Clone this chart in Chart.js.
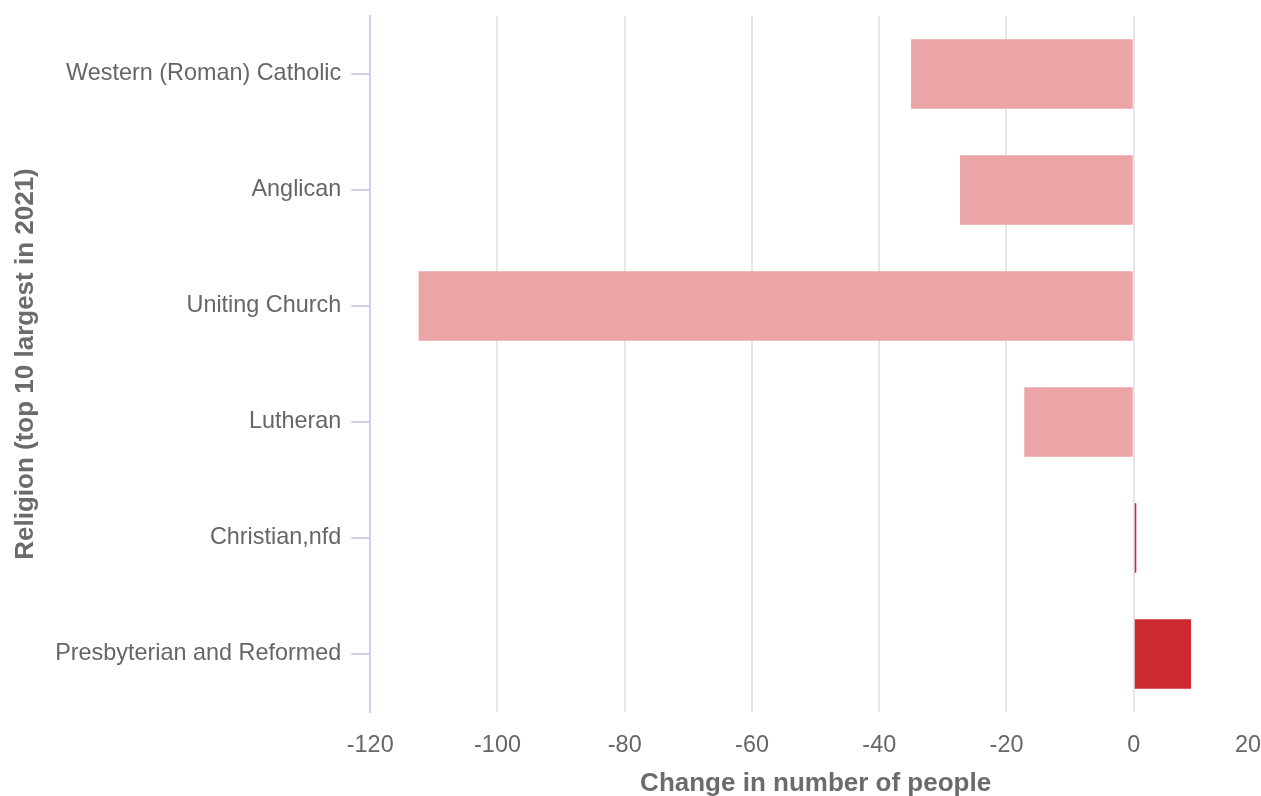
<!DOCTYPE html>
<html>
<head>
<meta charset="utf-8">
<script src="https://cdn.jsdelivr.net/npm/chart.js@4.4.1/dist/chart.umd.min.js"></script>
<style>
    html, body { margin: 0; padding: 0; background: #fff; }
    #wrap { width: 1261px; height: 796px; }
</style>
</head>
<body>
<div id="wrap"><canvas id="chart"></canvas></div>
<script>
const religions = ['Western (Roman) Catholic', 'Anglican', 'Uniting Church', 'Lutheran', 'Christian,nfd', 'Presbyterian and Reformed'];
const changes = [-35, -27.3, -112.4, -17.2, 0.4, 9];
const barColors = ['#eba5a6', '#eba5a6', '#eba5a6', '#eba5a6', '#cc2a30', '#cc2a30'];
const xTicks = [-120, -100, -80, -60, -40, -20, 0, 20];

const tickFont = { family: 'Liberation Sans, Arial, sans-serif', size: 23.4 };
const titleFont = { family: 'Liberation Sans, Arial, sans-serif', size: 26, weight: 'bold' };

new Chart(document.getElementById('chart'), {
    type: 'bar',
    data: {
        labels: religions,
        datasets: [{
            data: changes,
            backgroundColor: barColors,
            borderWidth: 0,
            barPercentage: 0.6,
            categoryPercentage: 1
        }]
    },
    options: {
        indexAxis: 'y',
        responsive: true,
        maintainAspectRatio: false,
        animation: false,
        layout: { padding: { top: 16, right: 0, left: 10, bottom: 0 } },
        plugins: { legend: { display: false }, tooltip: { enabled: false } },
        scales: {
            x: {
                min: xTicks[0],
                max: xTicks[xTicks.length - 1],
                afterBuildTicks: scale => { scale.ticks = xTicks.map(v => ({ value: v })); },
                afterFit: scale => { scale.paddingRight = 0; scale.height = 84; },
                ticks: {
                    color: '#666',
                    font: tickFont,
                    padding: 20,
                    maxRotation: 0,
                    callback: v => v === 20 ? '20    ' : String(v)
                },
                grid: {
                    color: ctx => (ctx.tick && ctx.tick.value === 20) ? 'rgba(0,0,0,0)' : '#e6e6e6',
                    lineWidth: 2,
                    drawTicks: false
                },
                border: { display: false },
                title: { display: true, text: 'Change in number of people', color: '#6b6b6b', font: titleFont, padding: { top: 0, bottom: -3 } }
            },
            y: {
                afterFit: scale => { scale.paddingTop = 0; scale.paddingBottom = 0; },
                ticks: { color: '#666', font: tickFont, padding: 10 },
                grid: { offset: false, drawOnChartArea: false, color: '#ccd0ea', lineWidth: 2, tickLength: 19 },
                border: { color: '#ccd0ea', width: 2 },
                title: { display: true, text: 'Religion (top 10 largest in 2021)', color: '#6b6b6b', font: titleFont, padding: { top: 0, bottom: 4 } }
            }
        }
    }
});
</script>
</body>
</html>
